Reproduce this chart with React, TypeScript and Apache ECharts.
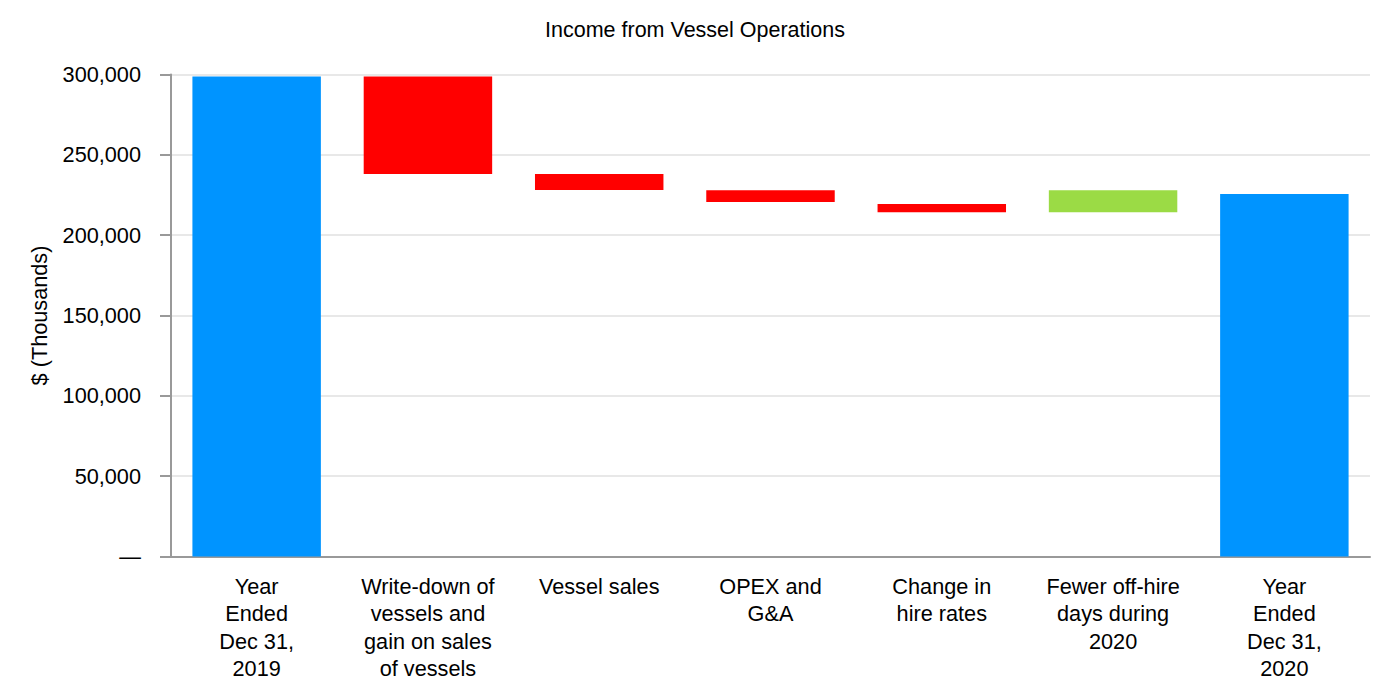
import React, { useEffect, useRef } from "react";
import * as echarts from "echarts";

const titleText = "Income from Vessel Operations";
const yAxisName = "$ (Thousands)";
const categories = [
  "Year\nEnded\nDec 31,\n2019",
  "Write-down of\nvessels and\ngain on sales\nof vessels",
  "Vessel sales",
  "OPEX and\nG&A",
  "Change in\nhire rates",
  "Fewer off-hire\ndays during\n2020",
  "Year\nEnded\nDec 31,\n2020",
];
const lows = [0, 238100, 228100, 220600, 214200, 214200, 0];
const highs = [298800, 298800, 238100, 227900, 219400, 227900, 225600];
const kinds = ["total", "decrease", "decrease", "decrease", "decrease", "increase", "total"];
const yTicks = { min: 0, max: 300000, interval: 50000 };

const kindColors: Record<string, string> = {
  total: "#0094FF",
  decrease: "#FF0000",
  increase: "#9BDB45",
};

const FONT = "Liberation Sans, Arial, sans-serif";

export default function App() {
  const ref = useRef<HTMLDivElement>(null);
  useEffect(() => {
    if (!ref.current) return;
    const chart = echarts.init(ref.current, undefined, { renderer: "svg" });
    chart.setOption({
      animation: false,
      backgroundColor: "#ffffff",
      textStyle: { fontFamily: FONT },
      title: {
        text: titleText,
        left: "center",
        top: 14,
        textStyle: { fontFamily: FONT, fontSize: 21.5, fontWeight: "normal", color: "#000" },
      },
      grid: { left: 171, right: 20, top: 74.5, bottom: 143.5, containLabel: false },
      xAxis: {
        type: "category",
        data: categories,
        axisLine: { lineStyle: { color: "#999", width: 2 } },
        axisTick: { alignWithLabel: true, length: 11, lineStyle: { color: "#999", width: 2 } },
        axisLabel: {
          interval: 0,
          margin: 16,
          fontSize: 21.7,
          lineHeight: 27.5,
          color: "#000",
          fontFamily: FONT,
          align: "center",
        },
      },
      yAxis: {
        type: "value",
        min: yTicks.min,
        max: yTicks.max,
        interval: yTicks.interval,
        name: yAxisName,
        nameLocation: "middle",
        nameGap: 121,
        nameTextStyle: { fontSize: 21.7, color: "#000", fontFamily: FONT },
        axisLine: { show: true, lineStyle: { color: "#999", width: 2 } },
        axisTick: { show: true, length: 11, lineStyle: { color: "#999", width: 2 } },
        axisLabel: {
          margin: 30,
          fontSize: 21.7,
          color: "#000",
          fontFamily: FONT,
          formatter: (v: number) => (v === 0 ? "—" : v.toLocaleString("en-US")),
        },
        splitLine: { show: true, lineStyle: { color: "#e8e8e8", width: 2 } },
      },
      series: [
        {
          type: "bar",
          stack: "wf",
          silent: true,
          itemStyle: { color: "transparent" },
          data: lows,
          barCategoryGap: "25%",
        },
        {
          type: "bar",
          stack: "wf",
          barCategoryGap: "25%",
          data: highs.map((h, i) => ({
            value: h - lows[i],
            itemStyle: { color: kindColors[kinds[i]] },
          })),
        },
      ],
    });
    return () => chart.dispose();
  }, []);
  return (
    <div
      ref={ref}
      style={{ position: "fixed", left: 0, top: 0, width: 1390, height: 700 }}
    />
  );
}
